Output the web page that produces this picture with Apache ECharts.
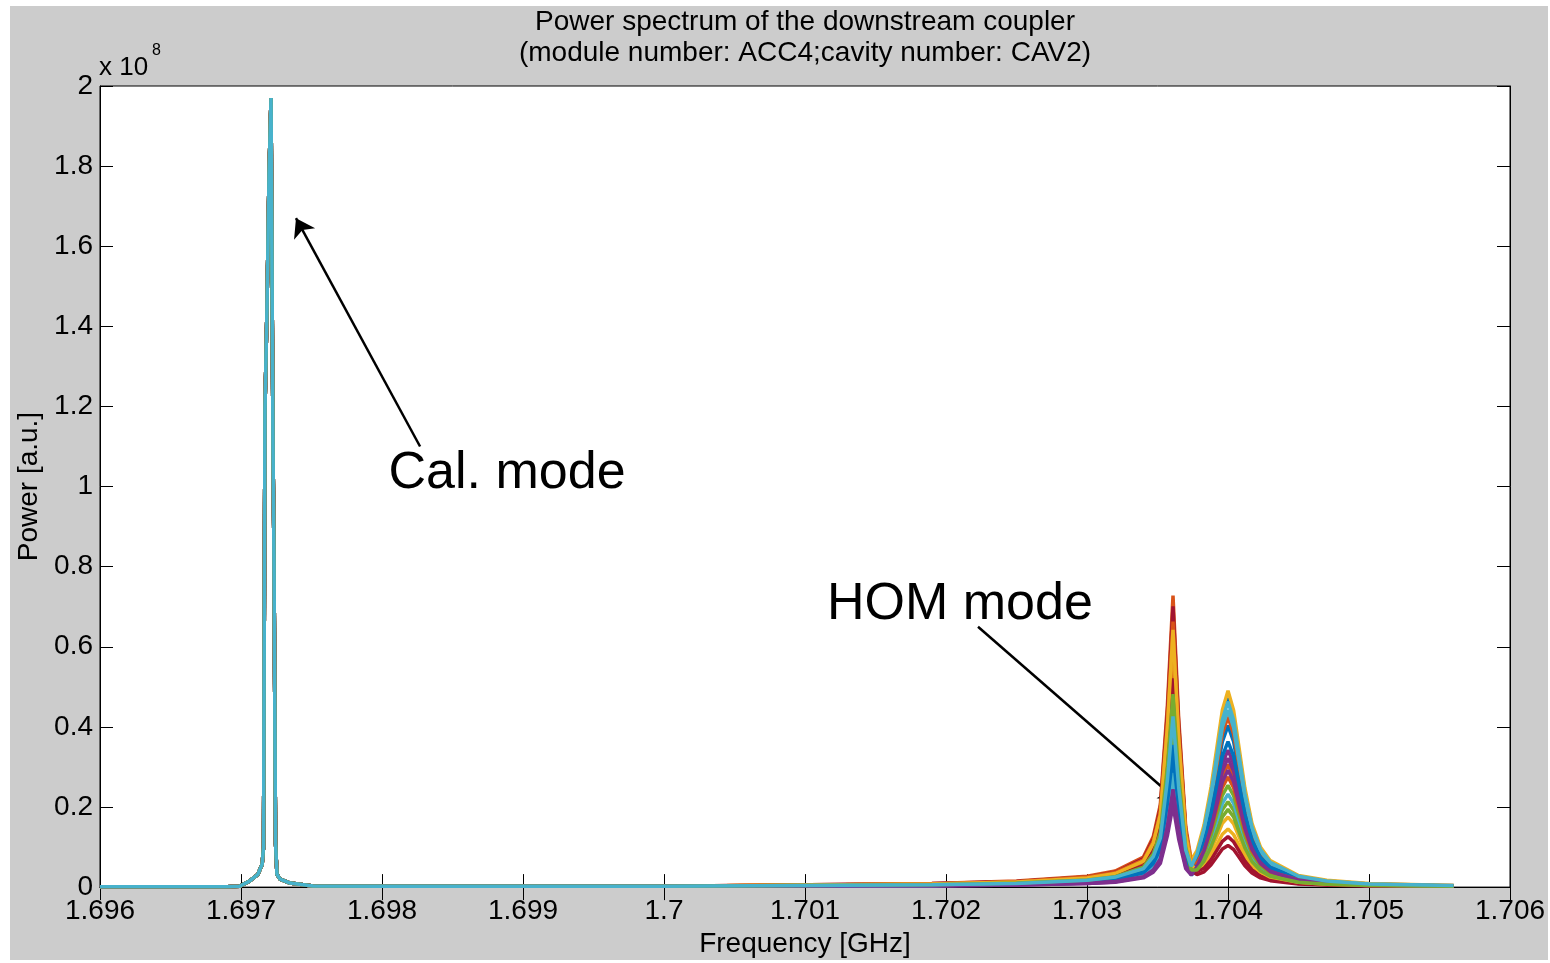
<!DOCTYPE html>
<html>
<head>
<meta charset="utf-8">
<title>Power spectrum of the downstream coupler</title>
<script src="https://cdn.jsdelivr.net/npm/echarts@6/dist/echarts.min.js"></script>
<style>
  html, body { margin: 0; padding: 0; background: #ffffff; overflow: hidden; }
  #frame { position: absolute; left: 10px; top: 6px; width: 1538px; height: 954px; background: #cccccc; }
  #chart { position: absolute; left: 0; top: 0; width: 1550px; height: 963px; }
</style>
</head>
<body>
<div id="frame"></div>
<div id="chart"></div>
<script>
// Frequency axis [GHz] and power axis [a.u., x 10^8]
const freqRange = [1.696, 1.706];
const freqStep = 0.001;
const powerRange = [0, 2];
const powerStep = 0.2;

// Calibration mode region, common to every measurement
const freqCal = [1.696, 1.6969, 1.69699, 1.69706, 1.69712, 1.69715, 1.69716, 1.69717, 1.697184, 1.697199,
                 1.697213, 1.697227, 1.697234, 1.697245, 1.697255, 1.697277, 1.697348, 1.69751, 1.698, 1.700];
const powerCal = [0.001, 0.001, 0.002, 0.015, 0.032, 0.057, 0.10, 1.19, 1.44, 1.78,
                  1.97, 1.10, 0.82, 0.11, 0.032, 0.02, 0.01, 0.003, 0.002, 0.002];

// HOM region sample frequencies
const freqHom = [1.7019, 1.7025, 1.7030, 1.7032, 1.7034, 1.70347, 1.70352, 1.70357, 1.70361, 1.70365,
                 1.70370, 1.70374, 1.70378, 1.70383, 1.70388, 1.70392, 1.70396, 1.70400, 1.70404, 1.70408,
                 1.70412, 1.70417, 1.70423, 1.7043, 1.7045, 1.7047, 1.7050, 1.7056];

// HOM power of each measurement, one row per trace
const homPower = [
  [0.005,0.007,0.013,0.018,0.034,0.055,0.089,0.191,0.306,0.180,0.069,0.045,0.080,0.146,0.239,0.332,0.426,0.472,0.425,0.331,0.237,0.152,0.096,0.063,0.027,0.015,0.008,0.003],
  [0.009,0.015,0.027,0.040,0.075,0.126,0.206,0.453,0.728,0.424,0.151,0.066,0.067,0.102,0.159,0.217,0.277,0.306,0.275,0.215,0.155,0.100,0.064,0.043,0.019,0.012,0.007,0.003],
  [0.008,0.013,0.025,0.036,0.069,0.117,0.192,0.423,0.682,0.396,0.139,0.055,0.041,0.053,0.078,0.105,0.132,0.145,0.131,0.103,0.074,0.049,0.032,0.022,0.010,0.007,0.004,0.002],
  [0.003,0.005,0.009,0.013,0.025,0.041,0.065,0.140,0.224,0.132,0.051,0.032,0.058,0.106,0.173,0.240,0.308,0.342,0.308,0.240,0.171,0.110,0.069,0.045,0.020,0.011,0.006,0.002],
  [0.005,0.008,0.015,0.022,0.042,0.070,0.114,0.250,0.403,0.235,0.084,0.039,0.044,0.069,0.110,0.151,0.193,0.213,0.192,0.150,0.108,0.070,0.044,0.029,0.013,0.008,0.004,0.002],
  [0.004,0.006,0.010,0.015,0.028,0.046,0.075,0.164,0.263,0.154,0.057,0.030,0.042,0.073,0.118,0.164,0.209,0.232,0.209,0.163,0.117,0.075,0.047,0.031,0.014,0.008,0.004,0.002],
  [0.009,0.014,0.025,0.037,0.071,0.120,0.197,0.435,0.701,0.408,0.142,0.055,0.039,0.047,0.068,0.091,0.114,0.126,0.113,0.089,0.065,0.043,0.028,0.019,0.009,0.006,0.004,0.002],
  [0.005,0.008,0.014,0.021,0.038,0.063,0.102,0.221,0.355,0.208,0.078,0.045,0.071,0.126,0.204,0.284,0.363,0.403,0.363,0.283,0.202,0.130,0.082,0.054,0.023,0.013,0.007,0.003],
  [0.008,0.012,0.022,0.033,0.061,0.102,0.167,0.364,0.585,0.342,0.124,0.062,0.080,0.135,0.217,0.300,0.383,0.425,0.382,0.298,0.214,0.138,0.087,0.058,0.025,0.015,0.008,0.004],
  [0.008,0.013,0.024,0.035,0.066,0.110,0.179,0.390,0.626,0.366,0.134,0.068,0.091,0.155,0.250,0.346,0.442,0.490,0.441,0.344,0.247,0.159,0.100,0.066,0.029,0.017,0.009,0.004],
  [0.003,0.005,0.009,0.012,0.023,0.037,0.059,0.128,0.204,0.120,0.046,0.030,0.054,0.099,0.162,0.226,0.290,0.322,0.290,0.225,0.161,0.104,0.065,0.043,0.018,0.010,0.005,0.002],
  [0.006,0.009,0.017,0.025,0.047,0.079,0.129,0.282,0.453,0.264,0.095,0.044,0.051,0.082,0.130,0.180,0.229,0.254,0.228,0.178,0.128,0.083,0.053,0.035,0.016,0.009,0.005,0.002],
  [0.004,0.007,0.012,0.017,0.032,0.052,0.083,0.178,0.285,0.168,0.065,0.042,0.074,0.137,0.223,0.311,0.399,0.442,0.398,0.310,0.222,0.143,0.090,0.059,0.025,0.014,0.007,0.003],
  [0.006,0.010,0.019,0.028,0.053,0.089,0.147,0.324,0.521,0.303,0.106,0.041,0.031,0.038,0.056,0.075,0.095,0.104,0.094,0.074,0.053,0.035,0.023,0.016,0.008,0.005,0.003,0.002],
  [0.005,0.007,0.013,0.019,0.036,0.059,0.096,0.209,0.334,0.196,0.073,0.041,0.064,0.113,0.184,0.255,0.327,0.363,0.327,0.254,0.182,0.117,0.074,0.049,0.021,0.012,0.006,0.003],
  [0.008,0.013,0.025,0.036,0.068,0.115,0.188,0.412,0.663,0.386,0.137,0.060,0.060,0.092,0.143,0.196,0.249,0.275,0.248,0.194,0.139,0.090,0.058,0.038,0.018,0.010,0.006,0.003],
  [0.008,0.013,0.023,0.034,0.065,0.110,0.181,0.399,0.642,0.373,0.131,0.053,0.045,0.061,0.093,0.125,0.159,0.175,0.158,0.124,0.089,0.058,0.038,0.025,0.012,0.007,0.005,0.002],
  [0.004,0.006,0.010,0.014,0.026,0.043,0.070,0.152,0.244,0.143,0.054,0.031,0.051,0.091,0.148,0.205,0.263,0.292,0.263,0.205,0.147,0.094,0.059,0.039,0.017,0.010,0.005,0.002],
  [0.006,0.010,0.018,0.026,0.050,0.083,0.136,0.300,0.482,0.281,0.100,0.043,0.043,0.065,0.101,0.138,0.175,0.194,0.175,0.136,0.098,0.064,0.041,0.027,0.012,0.007,0.004,0.002],
  [0.006,0.009,0.017,0.025,0.046,0.076,0.122,0.266,0.426,0.250,0.093,0.052,0.082,0.145,0.235,0.326,0.418,0.463,0.417,0.325,0.233,0.150,0.094,0.062,0.027,0.015,0.008,0.004]
];

// Line colour order
const traceColors = ['#0072BD', '#D95319', '#EDB120', '#7E2F8E', '#77AC30', '#47B2CC', '#A2142F'];

// Annotations: label centre and arrow (tail -> head), in data coordinates
const annotations = [
  { text: 'Cal. mode', at: [1.698887, 1.032], tail: [1.69827, 1.10], head: [1.69739, 1.67] },
  { text: 'HOM mode', at: [1.702099, 0.705], tail: [1.702227, 0.65], head: [1.703645, 0.215] }
];

const FONT = '"Liberation Sans", Arial, Helvetica, sans-serif';

const chart = echarts.init(document.getElementById('chart'), null, { renderer: 'canvas', width: 1550, height: 963 });

const series = homPower.map((row, i) => {
  const data = freqCal.map((f, k) => [f, powerCal[k]])
    .concat(freqHom.map((f, k) => [f, row[k]]));
  return {
    type: 'line',
    name: 'trace ' + (i + 1),
    data: data,
    showSymbol: false,
    symbol: 'none',
    lineStyle: { width: 3.5, color: traceColors[i % traceColors.length] },
    itemStyle: { color: traceColors[i % traceColors.length] },
    animation: false,
    silent: true,
    z: 2 + i
  };
});

// Arrows and labels ride on the last trace
const last = series[series.length - 1];
last.markLine = {
  silent: true,
  animation: false,
  symbol: ['none', 'arrow'],
  symbolSize: 18,
  label: { show: false },
  lineStyle: { color: '#000', width: 2.5, type: 'solid' },
  data: annotations.map(a => [{ coord: a.tail }, { coord: a.head }])
};
last.markPoint = {
  silent: true,
  animation: false,
  symbol: 'circle',
  symbolSize: 0,
  data: annotations.map(a => ({
    coord: a.at,
    label: {
      show: true, position: 'inside', formatter: a.text,
      fontSize: 52, color: '#000', fontFamily: FONT
    }
  }))
};

const fmtX = v => parseFloat(v.toFixed(3)).toString();
const fmtY = v => parseFloat(v.toFixed(1)).toString();

const axisCommon = {
  axisLine: { show: true, lineStyle: { color: '#000', width: 1 } },
  axisTick: { show: true, inside: true, length: 13, lineStyle: { color: '#000', width: 1 } },
  splitLine: { show: false }
};

chart.setOption({
  backgroundColor: 'transparent',
  animation: false,
  textStyle: { fontFamily: FONT },
  grid: {
    left: 100, top: 86, width: 1410, height: 807,
    show: true, backgroundColor: '#ffffff', borderColor: '#000', borderWidth: 1
  },
  xAxis: [
    Object.assign({
      type: 'value', position: 'bottom',
      min: freqRange[0], max: freqRange[1], interval: freqStep,
      name: 'Frequency [GHz]', nameLocation: 'middle', nameGap: 40,
      nameTextStyle: { fontSize: 28, color: '#000', fontFamily: FONT },
      axisLabel: { fontSize: 28, color: '#000', margin: 10, formatter: fmtX, fontFamily: FONT }
    }, axisCommon),
    Object.assign({
      type: 'value', position: 'top',
      min: freqRange[0], max: freqRange[1], interval: freqStep,
      axisLabel: { show: false }
    }, axisCommon)
  ],
  yAxis: [
    Object.assign({
      type: 'value', position: 'left',
      min: powerRange[0], max: powerRange[1], interval: powerStep,
      name: 'Power [a.u.]', nameLocation: 'middle', nameGap: 56,
      nameTextStyle: { fontSize: 28, color: '#000', fontFamily: FONT },
      axisLabel: { fontSize: 28, color: '#000', margin: 7, formatter: fmtY, fontFamily: FONT }
    }, axisCommon),
    Object.assign({
      type: 'value', position: 'right',
      min: powerRange[0], max: powerRange[1], interval: powerStep,
      axisLabel: { show: false }
    }, axisCommon)
  ],
  graphic: [
    {
      type: 'text', x: 805, y: 22,
      style: { text: 'Power spectrum of the downstream coupler', font: '28px ' + FONT,
               fill: '#000', textAlign: 'center', textVerticalAlign: 'middle' }
    },
    {
      type: 'text', x: 805, y: 53,
      style: { text: '(module number: ACC4;cavity number: CAV2)', font: '28px ' + FONT,
               fill: '#000', textAlign: 'center', textVerticalAlign: 'middle' }
    },
    {
      type: 'text', x: 99, y: 68,
      style: { text: 'x 10', font: '26px ' + FONT, fill: '#000',
               textAlign: 'left', textVerticalAlign: 'middle' }
    },
    {
      type: 'text', x: 152, y: 51,
      style: { text: '8', font: '16px ' + FONT, fill: '#000',
               textAlign: 'left', textVerticalAlign: 'middle' }
    }
  ],
  series: series
});
</script>
</body>
</html>
